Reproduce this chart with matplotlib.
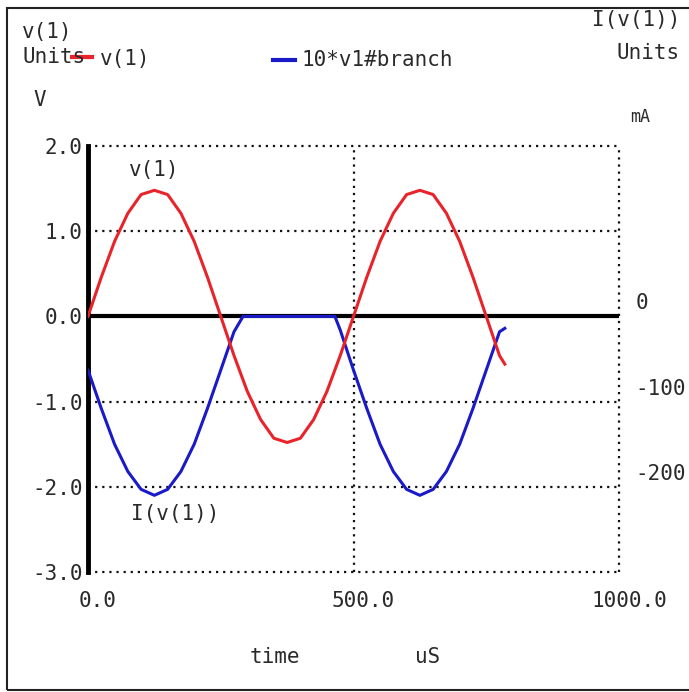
import matplotlib
matplotlib.use("Agg")
import matplotlib.pyplot as plt
import matplotlib.patches as patches
import matplotlib.transforms as mtransforms

# time in uS
time_us = [0, 25, 50, 75, 100, 125, 150, 175, 200, 225, 250, 275, 300, 325, 350,
           375, 400, 425, 450, 475, 500, 525, 550, 575, 600, 625, 650, 675, 700,
           725, 750, 775, 785]
v1 = [0.0, 0.46, 0.88, 1.21, 1.43, 1.48, 1.43, 1.21, 0.88, 0.46, 0.0, -0.46,
      -0.88, -1.21, -1.43, -1.48, -1.43, -1.21, -0.88, -0.46, 0.0, 0.46, 0.88,
      1.21, 1.43, 1.48, 1.43, 1.21, 0.88, 0.46, 0.0, -0.46, -0.56]

branch_t = [0, 25, 50, 75, 100, 125, 150, 175, 200, 225, 250, 275, 292, 465,
            475, 500, 525, 550, 575, 600, 625, 650, 675, 700, 725, 750, 775, 785]
branch = [-0.63, -1.08, -1.5, -1.82, -2.03, -2.1, -2.03, -1.82, -1.5, -1.08,
          -0.63, -0.18, 0.0, 0.0, -0.16, -0.63, -1.08, -1.5, -1.82, -2.03, -2.1,
          -2.03, -1.82, -1.5, -1.08, -0.63, -0.18, -0.14]

left_ticks = [2.0, 1.0, 0.0, -1.0, -2.0, -3.0]
left_labels = ["2.0", "1.0", "0.0", "-1.0", "-2.0", "-3.0"]
x_ticks = [0, 500, 1000]
x_labels = ["0.0", "500.0", "1000.0"]
right_ticks = [0, -100, -200]
right_labels = ["0", "-100", "-200"]

plt.rcParams['font.family'] = ['DejaVu Sans Mono']
TXT = '#2a2a2a'
FS = 15

fig = plt.figure(figsize=(6.89, 6.92), dpi=100)
fig.patch.set_facecolor('white')
ax = fig.add_axes([88 / 689, 120 / 692, 531 / 689, 426 / 692])
ax.set_xlim(0, 1000)
ax.set_ylim(-3, 2)
for s in ax.spines.values():
    s.set_visible(False)

# dotted grid
DOTS = (0, (1, 2.2))
for y in [2.0, 1.0, -1.0, -2.0, -3.0]:
    ax.axhline(y, color='#111111', linestyle=DOTS, linewidth=1.6, zorder=1, clip_on=False)
for x in [500, 1000]:
    ax.axvline(x, color='#111111', linestyle=DOTS, linewidth=1.6, zorder=1, clip_on=False)
ax.axhline(0, color='black', linewidth=3, zorder=2)
ax.axvline(0, color='black', linewidth=3.5, zorder=2, clip_on=False)

ax.plot(time_us, v1, color='#e8232a', linewidth=2.2, zorder=4)
ax.plot(branch_t, branch, color='#1a1ac8', linewidth=2.2, zorder=3)

ax.set_yticks(left_ticks)
ax.set_yticklabels(left_labels, fontsize=FS, color=TXT)
ax.set_xticks(x_ticks)
ax.set_xticklabels(x_labels, fontsize=FS, color=TXT)
ax.tick_params(length=0, pad=4)
ax.tick_params(axis='x', pad=14)
for lbl in ax.get_xticklabels():
    lbl.set_transform(lbl.get_transform() + mtransforms.ScaledTranslation(0.1, 0, fig.dpi_scale_trans))

ax2 = ax.twinx()
ax2.set_ylim(-300, 200)
for s in ax2.spines.values():
    s.set_visible(False)
ax2.set_yticks(right_ticks)
ax2.set_yticklabels(right_labels, fontsize=FS, color=TXT)
ax2.tick_params(length=0, pad=12)
for lbl in ax2.get_yticklabels():
    lbl.set_transform(lbl.get_transform() + mtransforms.ScaledTranslation(0, 0.15, fig.dpi_scale_trans))

# curve labels
ax.text(125, 1.6, "v(1)", fontsize=FS, color=TXT, ha='center', va='bottom')
ax.text(165, -2.2, "I(v(1))", fontsize=FS, color=TXT, ha='center', va='top')

# header texts (pixel coords from top-left)
def ftext(px, py, s, size=FS, **kw):
    fig.text(px / 689, 1 - py / 692, s, fontsize=size, color=TXT, **kw)

ftext(22, 32, "v(1)", va='center')
ftext(22, 57, "Units", va='center')
ftext(100, 59, "v(1)", va='center')
ftext(302, 60, "10*v1#branch", va='center')
ftext(680, 20, "I(v(1))", va='center', ha='right')
ftext(680, 53, "Units", va='center', ha='right')
ftext(33, 100, "V", va='center')
ftext(630, 117, "mA", va='center', size=12)
ftext(275, 657, "time", va='center', ha='center')
ftext(428, 657, "uS", va='center', ha='center')

fig.add_artist(plt.Line2D([72 / 689, 92 / 689], [1 - 57 / 692] * 2, color='#e8232a',
                          linewidth=3, transform=fig.transFigure))
fig.add_artist(plt.Line2D([273 / 689, 295 / 689], [1 - 60 / 692] * 2, color='#1a1ac8',
                          linewidth=3, transform=fig.transFigure))

# outer frame
fig.add_artist(patches.Rectangle((7 / 689, 2 / 692), 0.995, 1 - 10 / 692, fill=False,
                                 edgecolor='#222222', linewidth=1.5, transform=fig.transFigure))

fig.savefig("out.png", dpi=100)
